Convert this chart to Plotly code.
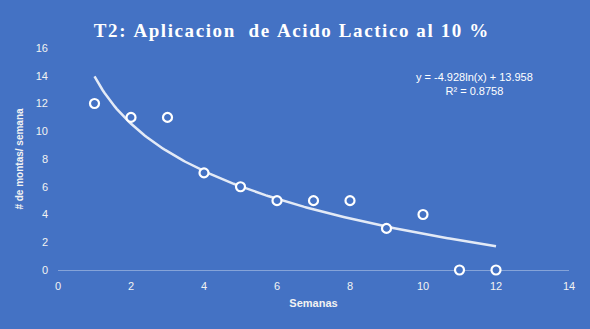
import numpy as np
import plotly.graph_objects as go

# Weekly counts
semanas = [1, 2, 3, 4, 5, 6, 7, 8, 9, 10, 11, 12]
montas = [12, 11, 11, 7, 6, 5, 5, 5, 3, 4, 0, 0]

# Logarithmic trend coefficients
coef_a = -4.928
coef_b = 13.958
r2 = 0.8758

titulo = "T2: Aplicacion  de Acido Lactico al 10 %"

bg = "#4472C4"
txt = "#F2F2F2"

x_fit = np.linspace(1, 12, 200)
y_fit = coef_a * np.log(x_fit) + coef_b

fig = go.Figure()
fig.add_trace(go.Scatter(
    x=x_fit, y=y_fit, mode="lines",
    line=dict(color="rgba(255,255,255,0.85)", width=2.5),
    hoverinfo="skip", showlegend=False,
))
fig.add_trace(go.Scatter(
    x=semanas, y=montas, mode="markers",
    marker=dict(size=9, color=bg, line=dict(color="white", width=2.2)),
    showlegend=False, cliponaxis=False,
))

L, R, T, B = 58, 21, 48, 59
W, H = 590, 329

# widen the title's letter spacing with hair spaces
spaced_title = "\u200a".join(titulo.replace(" ", "\u00a0"))

fig.update_layout(
    width=W, height=H,
    paper_bgcolor=bg, plot_bgcolor=bg,
    margin=dict(l=L, r=R, t=T, b=B),
    title=dict(
        text=spaced_title,
        x=(291 / W), xanchor="center", y=1 - 30 / H, yanchor="middle",
        font=dict(family="Liberation Serif", size=19, color="white", weight="bold"),
    ),
    xaxis=dict(
        range=[0, 14], dtick=2, showgrid=False, zeroline=False,
        showline=False, ticks="", ticklabelstandoff=8,
        tickfont=dict(family="Liberation Sans", size=11, color=txt),
        title=dict(text="<b>Semanas</b>", standoff=8,
                   font=dict(family="Liberation Sans", size=11, color=txt)),
    ),
    yaxis=dict(
        range=[0, 16], dtick=2, showgrid=False, zeroline=True,
        zerolinecolor="rgba(255,255,255,0.35)", zerolinewidth=1,
        showline=False, ticks="", ticklabelstandoff=9,
        tickfont=dict(family="Liberation Sans", size=11, color=txt),
        title=dict(text="<b># de montas/ semana</b>", standoff=10,
                   font=dict(family="Liberation Sans", size=10, color=txt)),
    ),
    annotations=[dict(
        text=f"y = {coef_a}ln(x) + {coef_b}<br>R² = {r2}",
        x=(474 - L) / (W - L - R), y=1 - (84 - T) / (H - T - B),
        xref="paper", yref="paper", xanchor="center", yanchor="middle",
        showarrow=False,
        font=dict(family="Liberation Sans", size=11, color="white"),
        align="center",
    )],
)

fig.write_html("out.html")
